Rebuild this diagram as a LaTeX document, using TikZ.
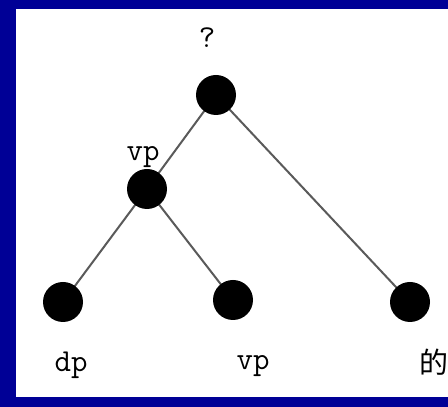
\documentclass[tikz,border=0pt]{standalone}
\usepackage{fontspec}
\newfontfamily\cjk{Noto Sans CJK SC}
\definecolor{frameblue}{RGB}{0,0,150}
\definecolor{edgegray}{RGB}{90,90,90}
\begin{document}
\begin{tikzpicture}[x=1pt,y=1pt,
  dot/.style={circle,fill=black,minimum size=40pt,inner sep=0pt},
  lab/.style={inner sep=0pt,font=\ttfamily\fontsize{32}{32}\selectfont},
  edge/.style={draw=edgegray,line width=2pt}]
\useasboundingbox (0,0) rectangle (448,407);
\fill[frameblue] (0,0) rectangle (448,407);
\clip (0,0) rectangle (448,407);
\fill[white] (16,10) rectangle (448,398);
% positions
\coordinate (root) at (216,312);
\coordinate (vpm) at (147,218);
\coordinate (dp) at (63,105);
\coordinate (vpl) at (233,107);
\coordinate (de) at (410,105);
% edges
\draw[edge] (root) -- (vpm);
\draw[edge] (root) -- (de);
\draw[edge] (vpm) -- (dp);
\draw[edge] (vpm) -- (vpl);
% dots
\node[dot] (nroot) at (root) {};
\node[dot] (nvpm) at (vpm) {};
\node[dot] (ndp) at (dp) {};
\node[dot] (nvpl) at (vpl) {};
\node[dot] (nde) at (de) {};
% labels
\node[lab] (q) at (207,369) {?};
\node[lab] (tvp) at (143,250) {vp};
\node[lab] (tdp) at (71,42) {dp};
\node[lab] (tvp2) at (253,41) {vp};
\node[inner sep=0pt,font=\cjk\fontsize{29}{29}\selectfont] (tde) at (434,45) {的};
\end{tikzpicture}
\end{document}
